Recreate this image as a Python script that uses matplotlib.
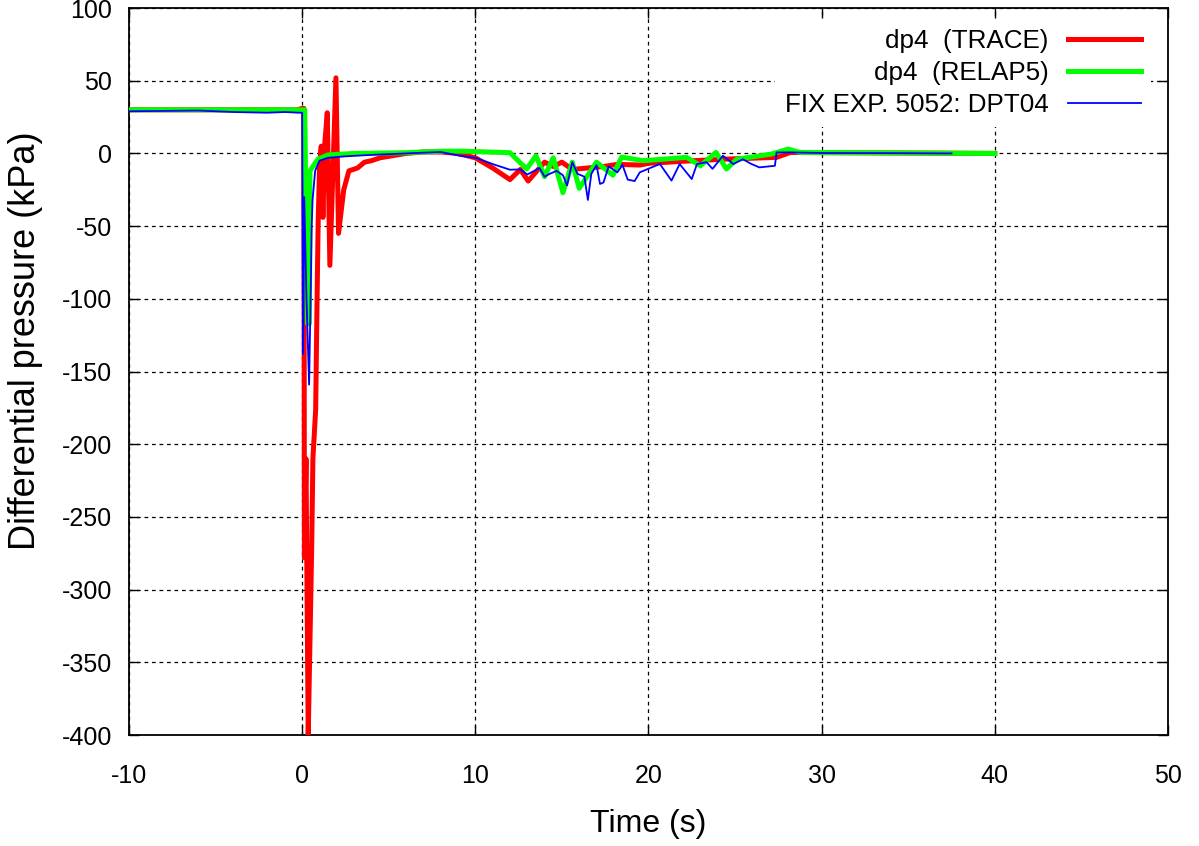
import matplotlib
matplotlib.use("Agg")
import matplotlib.pyplot as plt

plt.rcParams["font.family"] = ["Liberation Sans", "DejaVu Sans"]
plt.rcParams["axes.unicode_minus"] = False

# dp4 (TRACE)
trace_t = [-10, -0.3, 0.0, 0.1, 0.13, 0.22, 0.35, 0.55, 0.62, 0.78, 0.85, 0.92, 1.0, 1.1, 1.2, 1.3,
           1.45, 1.6, 1.95, 2.1, 2.4, 2.7, 3.2, 3.6, 4.0, 4.5, 5.0, 6.0, 7.0, 8.0, 9.0, 10.0,
           11.0, 12.0, 12.6, 13.05, 14.0, 14.5, 15.0, 15.6, 16.5, 17.4, 18.2, 19.5, 20.0, 22.6,
           24.5, 27.4, 28.2, 30.0, 35.0, 40.0]
trace_p = [30, 30, 31, 31, -278, -210, -400, -271, -210, -176, -110, -50, -10, 5, -44, 6,
           28, -77, 52, -55, -25, -12, -10, -6, -5, -3, -2, 0, 1, 1, 0, -3,
           -10, -18, -11, -19, -6, -9, -6, -11, -10, -9, -7.5, -8, -6.8, -5,
           -3.9, -2.7, 0.7, 0.5, 0.3, 0]

# dp4 (RELAP5)
relap_t = [-10, 0.0, 0.15, 0.3, 0.42, 0.45, 0.9, 1.5, 3.0, 6.0, 8.0, 9.1, 12.0, 12.96, 13.5,
           14.0, 14.5, 15.06, 15.6, 16.0, 17.0, 17.95, 18.45, 19.7, 22.2, 23.0, 23.9, 24.5,
           25.1, 27.1, 28.07, 28.75, 35.0, 40.0]
relap_p = [30, 30, 30, -117, -117, -12, -4, -1, 0, 0.5, 1.5, 1.6, 0.5, -10.7, -1.6,
           -16, -3, -27, -6, -24, -6, -15, -2.5, -5, -2.7, -8.5, 0.7, -10.7,
           -4, -0.4, 3, 0.7, 0.3, 0]

# FIX EXP. 5052: DPT04
exp_t = [-10, -6, -4, -2, -1, -0.2, 0.0, 0.05, 0.12, 0.25, 0.4, 0.5, 0.55, 0.6, 0.75, 1.0,
         1.5, 2.5, 4.0, 6.0, 8.0, 9.1, 10.08, 11.0, 12.0, 12.6, 13.0, 13.4, 13.7, 14.0,
         14.3, 14.7, 15.06, 15.3, 15.6, 15.9, 16.3, 16.5, 16.7, 17.0, 17.2, 17.4, 17.7,
         18.2, 18.5, 18.8, 19.2, 19.5, 20.1, 20.66, 21.33, 21.8, 22.5, 22.8, 23.35, 23.7,
         24.3, 24.9, 25.45, 25.9, 26.4, 27.3, 27.4, 28.3, 30.0, 34.0, 37.5]
exp_p = [29, 29.5, 28.5, 28, 28.5, 28, 28, -138, -30, -100, -159, -90, -50, -32, -12, -5,
         -3, -2, -1, 0, 1, -1.6, -3.2, -7.3, -11.2, -11, -14.5, -12, -10, -16,
         -14, -12, -15, -22, -6, -14, -16, -32, -14, -8, -21, -20, -9,
         -13, -8, -18, -19, -13, -10, -7.3, -18.7, -7.3, -17.6, -7.3, -6, -10.6,
         -1.6, -7.3, -4, -7, -9.6, -8.5, 0.7, 0.7, 0.3, 0.2, 0]

fig = plt.figure(figsize=(11.99, 8.46), dpi=100)
ax = fig.add_axes([0.1076, 0.1312, 0.8665, 0.8593])

ax.plot(trace_t, trace_p, color="#ff0000", lw=3.6, label="dp4  (TRACE)", zorder=3)
ax.plot(relap_t, relap_p, color="#00ff00", lw=3.6, label="dp4  (RELAP5)", zorder=4)
ax.plot(exp_t, exp_p, color="#0000ff", lw=1.3, label="FIX EXP. 5052: DPT04", zorder=5)

ax.set_xlim(-10, 50)
ax.set_ylim(-400, 100)
ax.set_xticks(range(-10, 51, 10))
ax.set_yticks(range(-400, 101, 50))
ax.grid(True, color="black", linestyle=(0, (3, 3)), linewidth=0.9)
ax.set_axisbelow(True)
ax.tick_params(direction="in", top=True, right=True, length=7, width=1, labelsize=18)
ax.tick_params(axis="x", pad=21)
ax.tick_params(axis="y", pad=12)
for s in ax.spines.values():
    s.set_linewidth(1.3)

ax.set_xlabel("Time (s)", fontsize=23, labelpad=15)
ax.set_ylabel("Differential pressure (kPa)", fontsize=26)
ax.yaxis.set_label_coords(-0.083, 0.542)

leg = ax.legend(loc="upper right", bbox_to_anchor=(0.984, 0.985), markerfirst=False,
                fontsize=18.7, handlelength=2.8, handletextpad=0.75, labelspacing=0.3,
                borderpad=0.4, borderaxespad=0, frameon=True, fancybox=False)
leg.get_frame().set_facecolor("white")
leg.get_frame().set_edgecolor("none")
leg.get_frame().set_alpha(1)

fig.savefig("out.png", dpi=100)
